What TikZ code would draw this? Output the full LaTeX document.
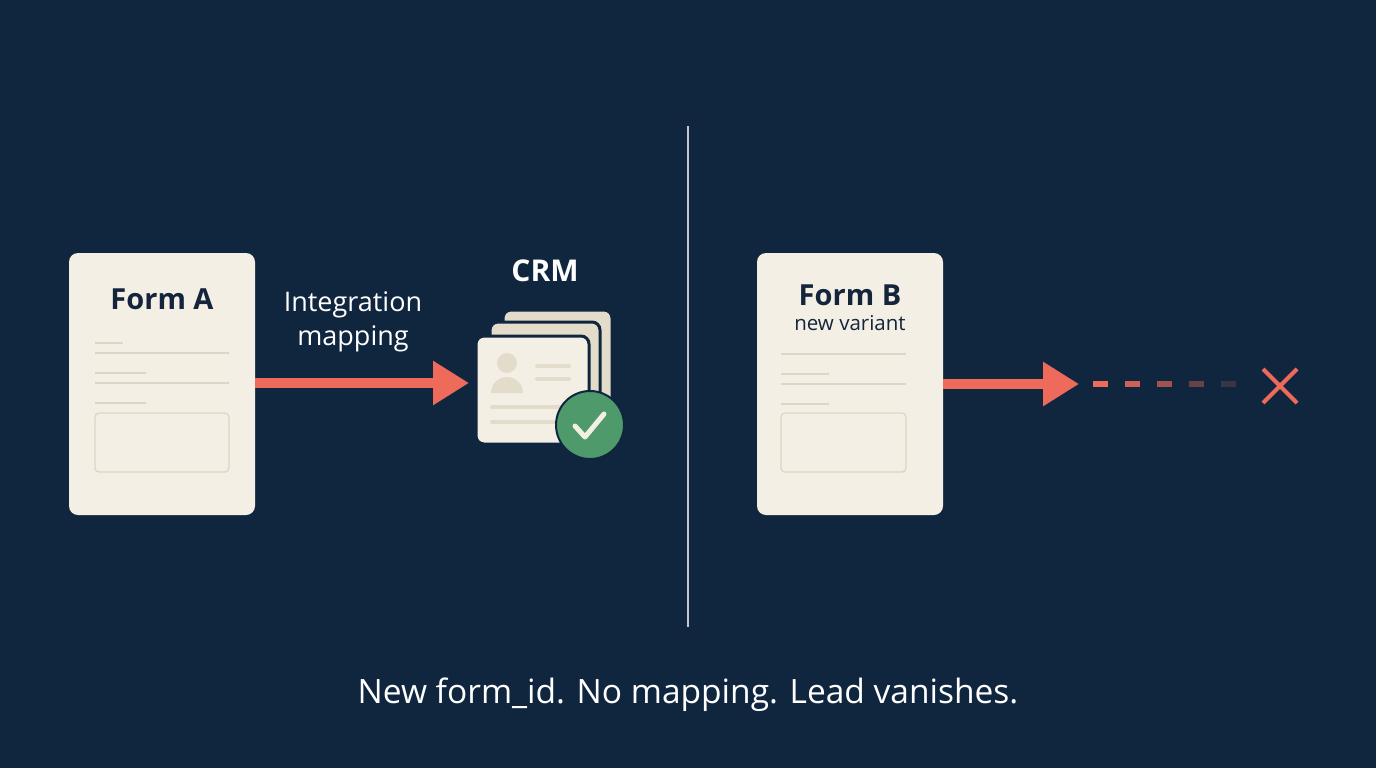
\documentclass[tikz,border=0pt]{standalone}
\usepackage{fontspec}
\setmainfont{Open Sans}
\usetikzlibrary{arrows.meta,positioning,calc}
\definecolor{bgnavy}{HTML}{10263F}
\definecolor{paper}{HTML}{F3EFE4}
\definecolor{paperline}{HTML}{DDD6C8}
\definecolor{cardback}{HTML}{E4DCCB}
\definecolor{inkdark}{HTML}{14243A}
\definecolor{coral}{HTML}{EE6A5B}
\definecolor{okgreen}{HTML}{4E9A6B}
\tikzset{
  formcard/.style={fill=paper,rounded corners=9pt},
  formline/.style={paperline,line width=1.3pt},
  flowarrow/.style={coral,line width=10pt,-{Triangle[length=36pt,width=42pt]}},
  crmcard/.style={rounded corners=8pt,draw=bgnavy,line width=3pt},
}
\begin{document}
\begin{tikzpicture}[x=1pt,y=-1pt]
  \fill[bgnavy] (0,0) rectangle (1376,768);
  \useasboundingbox (0,0) rectangle (1376,768);

  % form A
  \fill[formcard] (69,253) rectangle (255,515);
  \node[font=\bfseries\fontsize{29}{34}\selectfont,text=inkdark] (formA) at (162,299) {Form A};
  \draw[formline] (95,343) -- (123,343) (95,353) -- (229,353) (95,373) -- (146,373)
    (95,383) -- (229,383) (95,403) -- (146,403);
  \draw[formline,rounded corners=4pt] (95,413) rectangle (229,472);
  \coordinate (Aout) at (255,383);

  % CRM stack
  \node[font=\bfseries\fontsize{30}{34}\selectfont,text=white] (crm) at (545,271) {CRM};
  \draw[crmcard,fill=cardback] (503,310) rectangle (612,420);
  \draw[crmcard,fill=cardback] (490,322) rectangle (600,432);
  \draw[crmcard,fill=paper] (476,336) rectangle (589,444);
  \fill[cardback] (507,363) circle (10);
  \fill[cardback] (491,393) arc[start angle=180,end angle=360,radius=16] -- cycle;
  \draw[cardback,line width=4pt,line cap=round] (537,366) -- (569,366) (537,379) -- (569,379)
    (492,407) -- (560,407) (492,422) -- (560,422);
  \node[circle,fill=okgreen,draw=bgnavy,line width=2pt,minimum size=68pt] (ok) at (590,425) {};
  \draw[paper,line width=5pt,line cap=round,line join=round] (575,426) -- (585,437) -- (604,414);
  \coordinate (crmIn) at (469,383);

  \draw[flowarrow] (Aout) -- (crmIn);
  \node[text=white,font=\fontsize{27}{34}\selectfont,align=center] (mapping) at (353,322) {Integration\\mapping};

  % divider
  \coordinate (divTop) at (688,126);
  \coordinate (divBot) at (688,627);
  \draw[white!75!bgnavy,line width=1.5pt] (divTop) -- (divBot);

  % form B
  \fill[formcard] (757,253) rectangle (943,515);
  \node[font=\bfseries\fontsize{29}{34}\selectfont,text=inkdark] (formB) at (850,295) {Form B};
  \node[font=\fontsize{20.5}{24}\selectfont,text=inkdark] (variant) at (850,323) {new variant};
  \draw[formline] (781,354) -- (906,354) (781,374) -- (829,374) (781,384) -- (906,384)
    (781,404) -- (829,404);
  \draw[formline,rounded corners=4pt] (781,413) rectangle (906,472);
  \coordinate (Bout) at (943,384);
  \coordinate (Bend) at (1079,384);
  \draw[flowarrow] (Bout) -- (Bend);
  \foreach \i/\c in {0/100,1/85,2/65,3/40,4/20}
    \draw[coral!\c!bgnavy,line width=6pt] (1093+32*\i,384) -- (1108+32*\i,384);
  \coordinate (lost) at (1280,386);
  \draw[coral,line width=4pt] ($(lost)+(-17,-17)$) -- ($(lost)+(17,17)$)
    ($(lost)+(-17,17)$) -- ($(lost)+(17,-17)$);

  \node[text=white,font=\fontsize{33.5}{40}\selectfont] (caption) at (688,695) {New form\_id. No mapping. Lead vanishes.};
\end{tikzpicture}
\end{document}
